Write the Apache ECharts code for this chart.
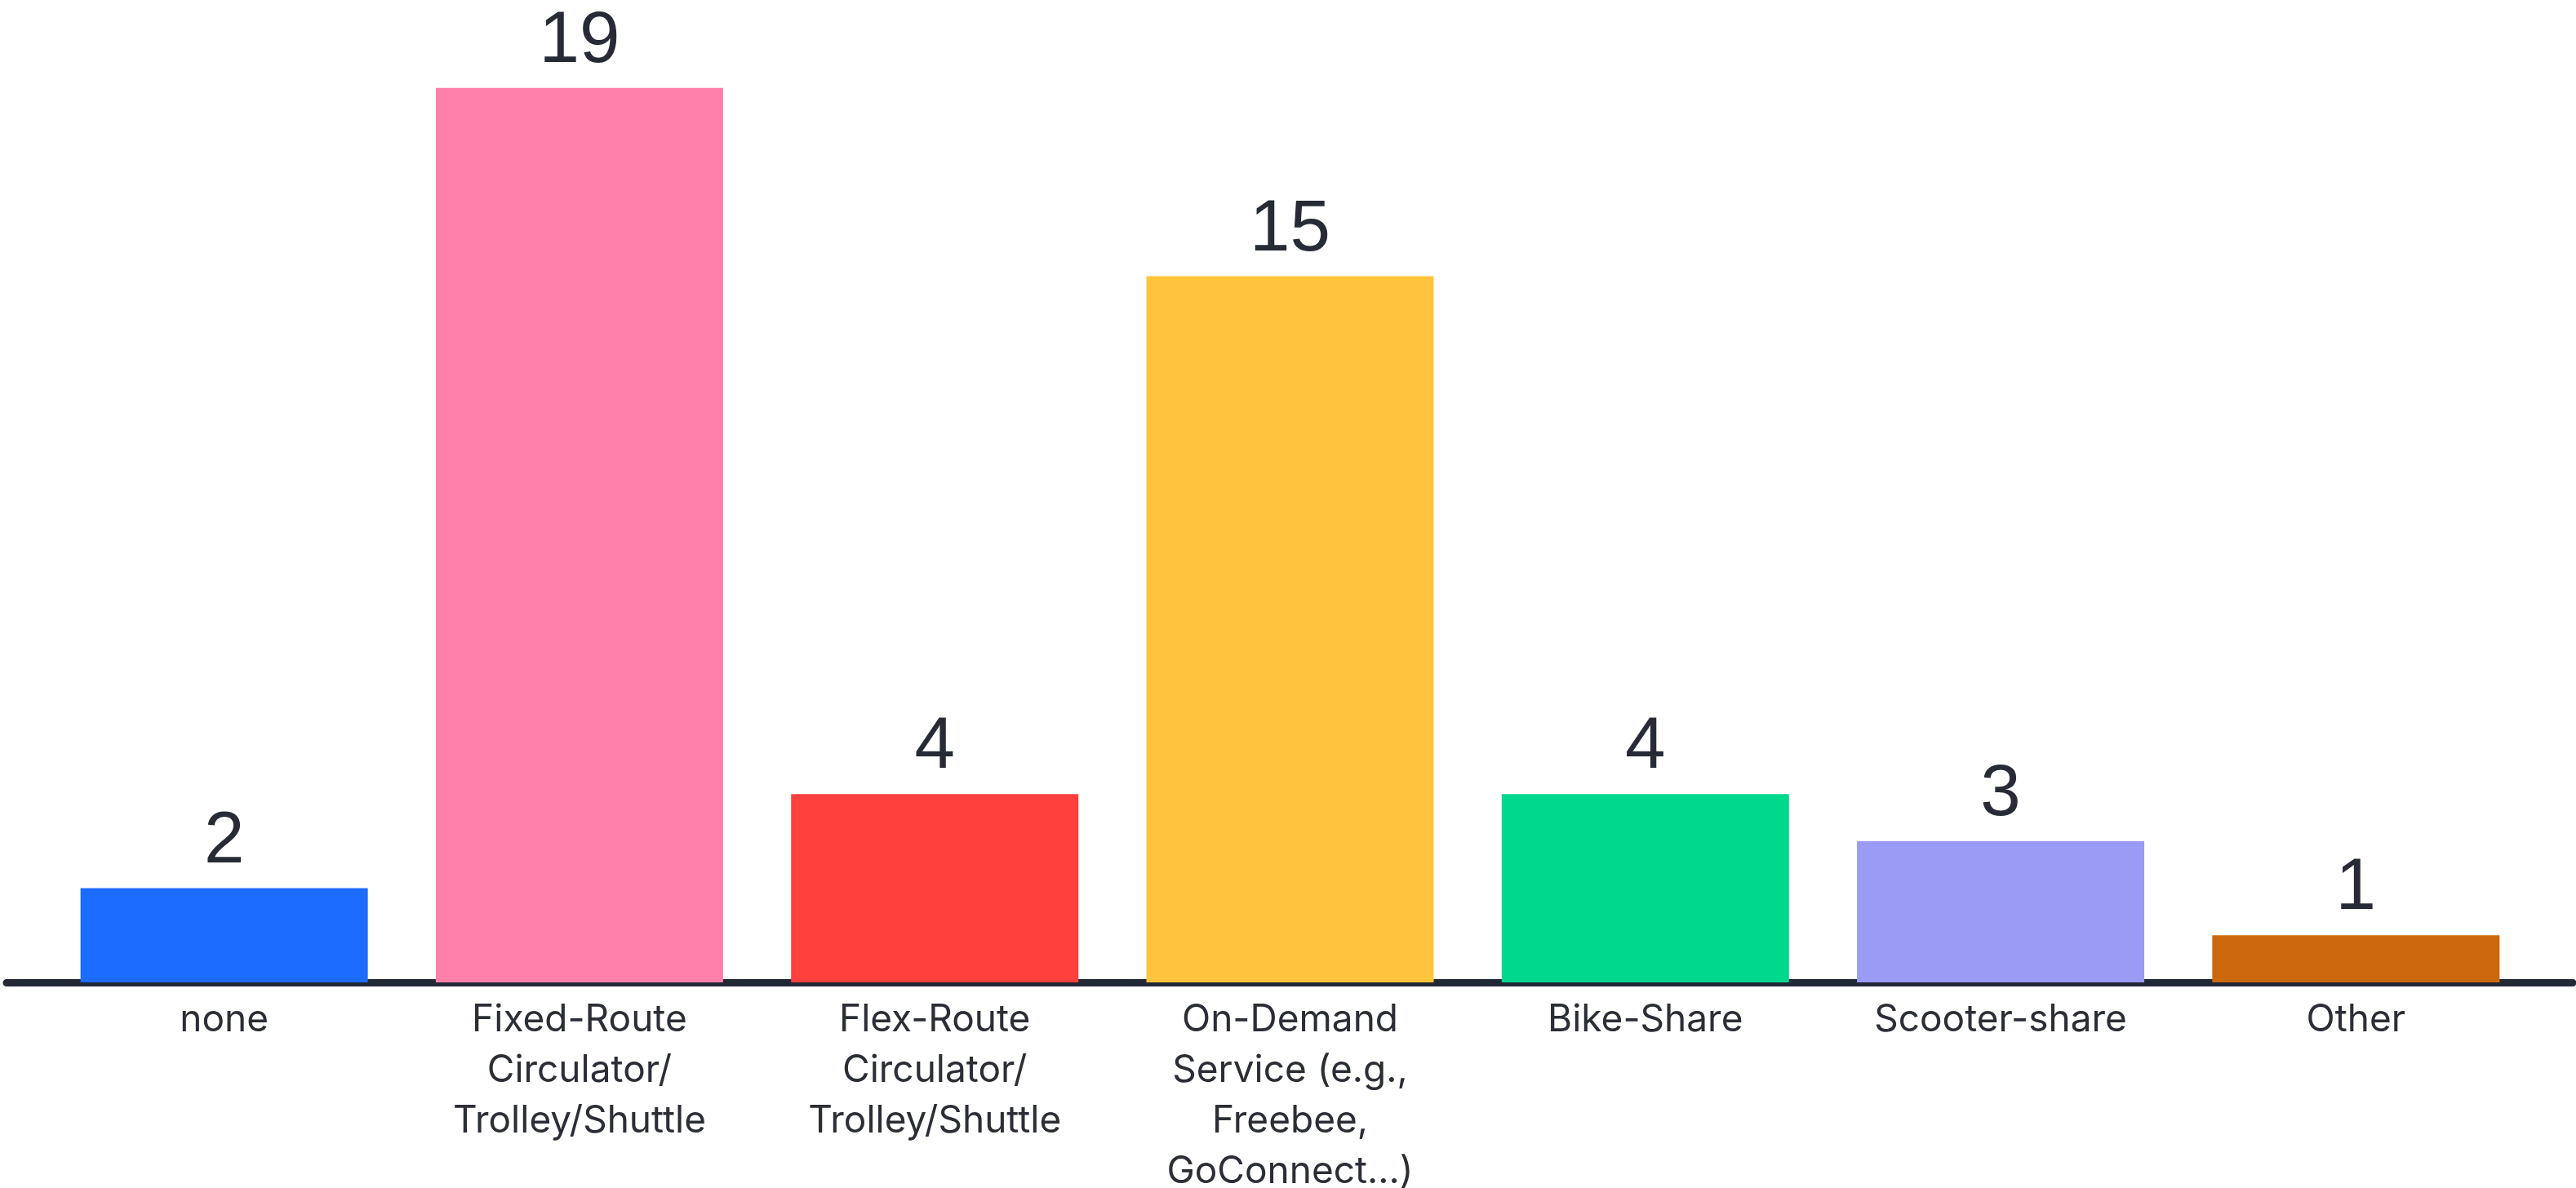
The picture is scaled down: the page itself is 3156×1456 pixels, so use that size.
<!DOCTYPE html>
<html>
<head>
<meta charset="utf-8">
<script src="https://cdn.jsdelivr.net/npm/echarts@6/dist/echarts.min.js"></script>
<style>
html,body{margin:0;padding:0;background:#fff;}
#chart{width:3156px;height:1456px;}
</style>
</head>
<body>
<div id="chart"></div>
<script>
const categories = [
  "none",
  "Fixed-Route\nCirculator/\nTrolley/Shuttle",
  "Flex-Route\nCirculator/\nTrolley/Shuttle",
  "On-Demand\nService (e.g.,\nFreebee,\nGoConnect…)",
  "Bike-Share",
  "Scooter-share",
  "Other"
];
const values = [2, 19, 4, 15, 4, 3, 1];
const barColors = ["#1b6cff", "#ff80aa", "#ff403d", "#ffc43c", "#00d98d", "#999bf4", "#cc680c"];

const chart = echarts.init(document.getElementById('chart'), null, {renderer: 'canvas'});
chart.setOption({
  animation: false,
  backgroundColor: '#ffffff',
  grid: [
    {left: 57, right: 52, top: 50, bottom: 252, outerBoundsMode: 'none', containLabel: false},
    {left: 8, right: 4, top: 50, bottom: 252, outerBoundsMode: 'none', containLabel: false}
  ],
  xAxis: [
    {
      type: 'category',
      gridIndex: 0,
      data: categories,
      axisLine: {show: false},
      axisTick: {show: false},
      axisLabel: {
        interval: 0,
        color: '#2b2e36',
        fontFamily: 'Inter',
        fontSize: 46,
        lineHeight: 62,
        margin: 15,
        verticalAlign: 'top'
      }
    },
    {
      type: 'value',
      gridIndex: 1,
      min: 0, max: 1,
      offset: 4.5,
      axisLine: {show: true, lineStyle: {color: '#232835', width: 9}},
      axisTick: {show: false},
      axisLabel: {show: false},
      splitLine: {show: false}
    }
  ],
  yAxis: [
    {type: 'value', gridIndex: 0, min: 0, max: 20, show: false, splitLine: {show: false}},
    {type: 'value', gridIndex: 1, min: 0, max: 1, show: false, splitLine: {show: false}}
  ],
  series: [{
    type: 'bar',
    xAxisIndex: 0,
    yAxisIndex: 0,
    barWidth: 352,
    data: values.map((v, i) => ({value: v, itemStyle: {color: barColors[i]}})),
    label: {
      show: true,
      position: 'top',
      distance: 12,
      color: '#262b36',
      fontFamily: 'Liberation Sans',
      fontSize: 89
    }
  }]
});
</script>
</body>
</html>
